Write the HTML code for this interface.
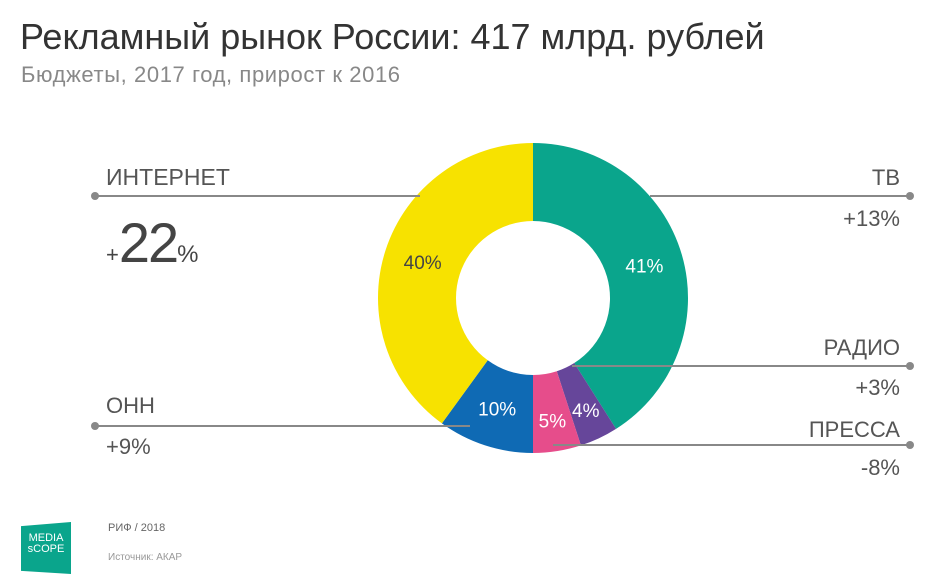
<!DOCTYPE html>
<html><head><meta charset="utf-8"><style>
body{margin:0;width:947px;height:580px;background:#fff;font-family:"Liberation Sans","DejaVu Sans",sans-serif;overflow:hidden;position:relative}
.t{position:absolute;white-space:nowrap}
.l{font-size:22px;color:#555}
</style></head><body>
<div class="t" style="left:20px;top:16px;font-size:36px;color:#333">Рекламный рынок России: 417 млрд. рублей</div>
<div class="t" style="left:21px;top:62px;font-size:22px;letter-spacing:0.6px;color:#888">Бюджеты, 2017 год, прирост к 2016</div>
<svg id="c" width="947" height="580" style="position:absolute;left:0;top:0"></svg>
<div class="t l" style="left:106px;top:164px;font-size:23px">ИНТЕРНЕТ</div>
<div class="t" style="left:106px;top:210px;color:#444"><span style="font-size:22px">+</span><span style="font-size:56px;letter-spacing:-2px">22</span><span style="font-size:24px">%</span></div>
<div class="t l" style="left:106px;top:393px">ОНН</div>
<div class="t l" style="left:106px;top:434px">+9%</div>
<div class="t l" style="right:47px;top:165px">ТВ</div>
<div class="t l" style="right:47px;top:206px">+13%</div>
<div class="t l" style="right:47px;top:335px">РАДИО</div>
<div class="t l" style="right:47px;top:375px">+3%</div>
<div class="t l" style="right:47px;top:417px">ПРЕССА</div>
<div class="t l" style="right:47px;top:455px">-8%</div>
<div style="position:absolute;left:21px;top:522px;width:50px;height:52px;background:#0aa58c;clip-path:polygon(0 8%,100% 0,100% 100%,0 94%);color:#fff;font-size:11px;line-height:11px;text-align:center;padding-top:11px;box-sizing:border-box">MEDIA<br>sCOPE</div>
<div class="t" style="left:108px;top:522px;font-size:11px;color:#666">РИФ / 2018</div>
<div class="t" style="left:108px;top:552px;font-size:10px;color:#999">Источник: АКАР</div>
<script>
const categories=["ТВ","Радио","Пресса","ОНН","Интернет"];
const shares=[41,4,5,10,40];
const colors=["#0aa58c","#66469a","#e64d8b","#0f6ab4","#f7e200"];
const labelColors=["#fff","#fff","#fff","#fff","#444"];
const svg=document.getElementById('c');
const NS="http://www.w3.org/2000/svg";
const cx=533,cy=298,R=155,r=77;
const total=shares.reduce((a,b)=>a+b,0);
function pt(a,rad){return [cx+rad*Math.sin(a),cy-rad*Math.cos(a)];}
let acc=0;
shares.forEach((v,i)=>{
 const a0=acc/total*2*Math.PI,a1=(acc+v)/total*2*Math.PI;acc+=v;
 const lg=(a1-a0)>Math.PI?1:0;
 const [x0,y0]=pt(a0,R),[x1,y1]=pt(a1,R),[x2,y2]=pt(a1,r),[x3,y3]=pt(a0,r);
 const p=document.createElementNS(NS,'path');
 p.setAttribute('d',`M${x0},${y0}A${R},${R} 0 ${lg} 1 ${x1},${y1}L${x2},${y2}A${r},${r} 0 ${lg} 0 ${x3},${y3}Z`);
 p.setAttribute('fill',colors[i]);
 
 
 svg.appendChild(p);
 const am=(a0+a1)/2;const [tx,ty]=pt(am,(R+r)/2+(v<6?8:0));
 const t=document.createElementNS(NS,'text');
 t.setAttribute('x',tx);t.setAttribute('y',ty+7);t.setAttribute('text-anchor','middle');
 t.setAttribute('font-size','19');t.setAttribute('fill',labelColors[i]);
 t.setAttribute('font-family','Liberation Sans, sans-serif');
 t.textContent=v+'%';
 
 
 svg.appendChild(t);
});
const leaders=[[95,196,420,196],[650,196,910,196],[572,366,910,366],[553,445,910,445],[95,426,470,426]];
const dotX=[95,910,910,910,95];
leaders.forEach((l,i)=>{
 const ln=document.createElementNS(NS,'line');
 ln.setAttribute('x1',l[0]);ln.setAttribute('y1',l[1]);ln.setAttribute('x2',l[2]);ln.setAttribute('y2',l[3]);
 ln.setAttribute('stroke','#888');ln.setAttribute('stroke-width','2');
 
 
 svg.appendChild(ln);
 const c=document.createElementNS(NS,'circle');
 c.setAttribute('cx',dotX[i]);c.setAttribute('cy',l[1]);c.setAttribute('r','4');c.setAttribute('fill','#888');
 
 
 svg.appendChild(c);
});
</script>
</body></html>
